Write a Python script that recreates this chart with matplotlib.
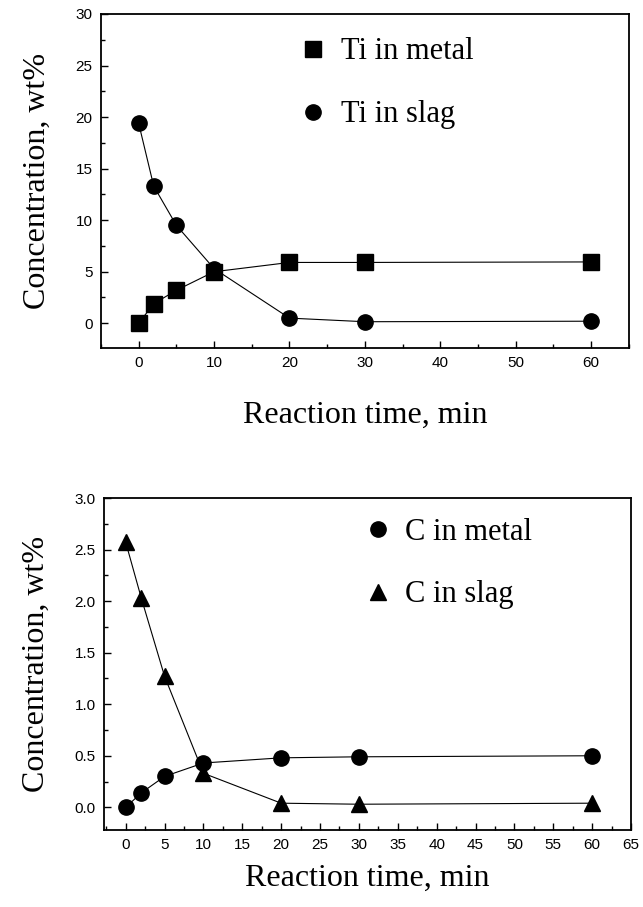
import numpy as np
import matplotlib
matplotlib.use('Agg')
import matplotlib.pyplot as plt
from matplotlib.ticker import MultipleLocator

# data
t = [0, 2, 5, 10, 20, 30, 60]
ti_metal = [0.0, 1.9, 3.2, 5.0, 5.9, 5.9, 5.95]
ti_slag = [19.4, 13.3, 9.5, 5.3, 0.5, 0.15, 0.2]
c_metal = [0.0, 0.14, 0.30, 0.43, 0.48, 0.49, 0.50]
c_slag = [2.57, 2.03, 1.27, 0.33, 0.04, 0.03, 0.04]

serif = ['Liberation Serif', 'DejaVu Serif']
sans = ['Liberation Sans', 'DejaVu Sans']

fig = plt.figure(figsize=(6.43, 9.07), dpi=100)
ax1 = fig.add_axes([0.157, 0.6163, 0.821, 0.3683])
ax2 = fig.add_axes([0.1617, 0.0849, 0.8196, 0.366])

def series(ax, y, mk, name):
    # thin connecting line, then the markers (only these go in the legend)
    ax.plot(t, y, color='black', lw=0.8)
    ax.plot(t, y, ls='none', marker=mk, color='black', markersize=11, label=name)

series(ax1, ti_metal, 's', 'Ti in metal')
series(ax1, ti_slag, 'o', 'Ti in slag')
ax1.set_xlim(-5, 65)
ax1.set_ylim(-2.4, 30)
ax1.xaxis.set_major_locator(MultipleLocator(10))
ax1.xaxis.set_minor_locator(MultipleLocator(5))
ax1.yaxis.set_major_locator(MultipleLocator(5))
ax1.yaxis.set_minor_locator(MultipleLocator(2.5))

series(ax2, c_metal, 'o', 'C in metal')
series(ax2, c_slag, '^', 'C in slag')
ax2.set_xlim(-2.8, 65)
ax2.set_ylim(-0.22, 3.0)
ax2.xaxis.set_major_locator(MultipleLocator(5))
ax2.xaxis.set_minor_locator(MultipleLocator(2.5))
ax2.yaxis.set_major_locator(MultipleLocator(0.5))
ax2.yaxis.set_minor_locator(MultipleLocator(0.25))
ax2.yaxis.set_major_formatter(matplotlib.ticker.FormatStrFormatter('%.1f'))

for ax, lx, ly, xpad in [(ax1, 0.333, 1.012, 22), (ax2, 0.45, 1.024, 8)]:
    for s in ax.spines.values():
        s.set_linewidth(1.3)
    ax.tick_params(which='both', direction='in', width=1.0)
    ax.tick_params(which='major', length=5, labelsize=11, pad=6)
    ax.tick_params(which='minor', length=3)
    for lab in ax.get_xticklabels() + ax.get_yticklabels():
        lab.set_family(sans)
    ax.set_xlabel('Reaction time, min', family=serif, fontsize=23, labelpad=xpad)
    ax.set_ylabel('Concentration, wt%', family=serif, fontsize=23, labelpad=17)
    ax.legend(loc='upper left', bbox_to_anchor=(lx, ly), frameon=False,
              prop={'family': serif, 'size': 22}, handlelength=0.6,
              handletextpad=0.6, labelspacing=1.11, markerscale=1.0)

fig.savefig('out.png', dpi=100)
